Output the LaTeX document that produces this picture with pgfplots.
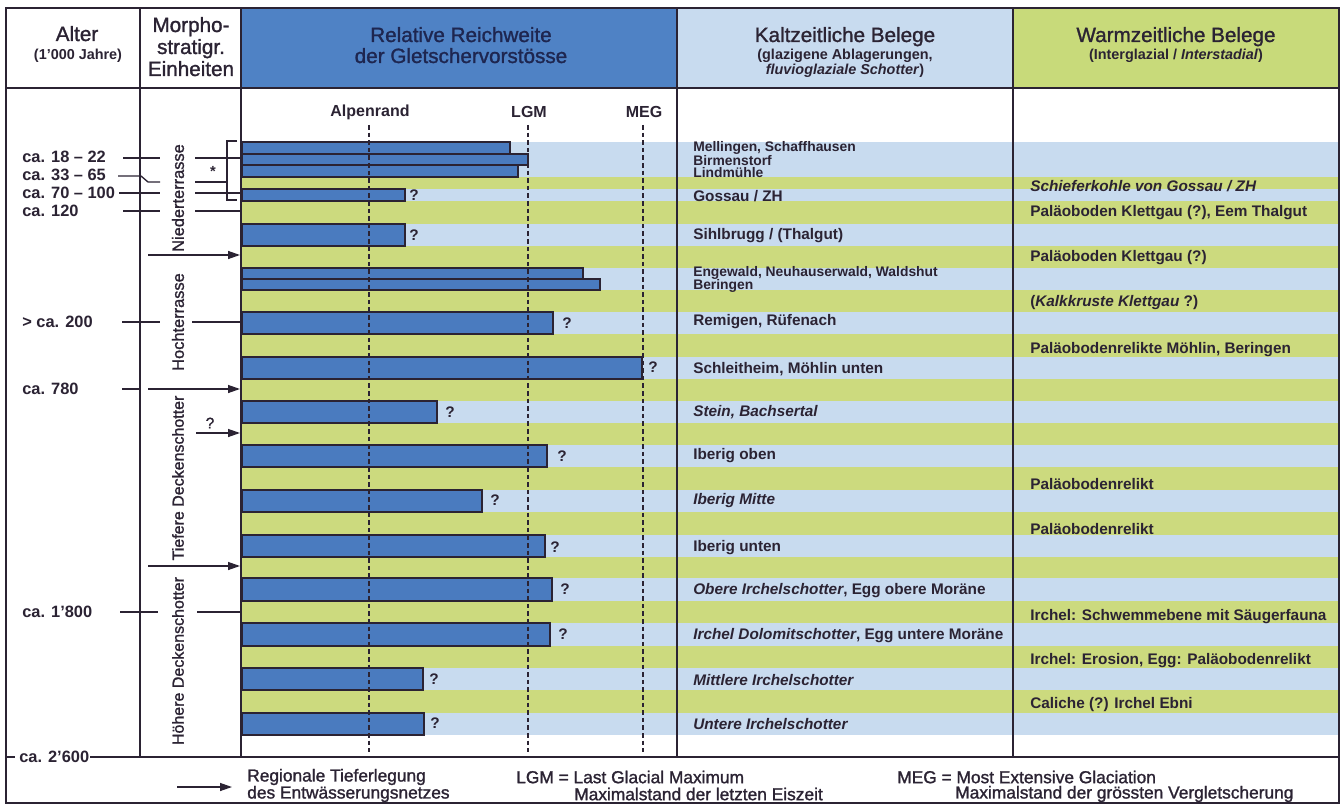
\documentclass[border=0pt]{standalone}
\usepackage{pgfplots}
\pgfplotsset{compat=1.18}
\usetikzlibrary{arrows.meta}
\usepackage{fontspec}
\setmainfont{Liberation Sans}
\newfontfamily\medfont[FakeBold=1.3]{Liberation Sans}
\definecolor{barblue}{HTML}{4A7BBF}
\definecolor{hdrblue}{HTML}{4F82C5}
\definecolor{lblue}{HTML}{C8DBEF}
\definecolor{lgreen}{HTML}{CCDA7E}
\definecolor{hgreen}{HTML}{C8DA7A}
\definecolor{ink}{HTML}{2B2333}
\definecolor{navy}{HTML}{1E2650}
\newcommand{\rectfill}[5]{\addplot[fill=#5,draw=none,mark=none,forget plot] coordinates {(#1,#2) (#3,#2) (#3,#4) (#1,#4)} -- cycle;}
\newcommand{\band}[3]{\rectfill{241}{#1}{1339}{#2}{#3}}
\newcommand{\gbar}[3]{\addplot[fill=barblue,draw=ink,line width=0.9pt,mark=none] coordinates {(242,#1) (#3,#1) (#3,#2) (242,#2)} -- cycle;}
\newcommand{\seg}[4]{\addplot[draw=ink,line width=1pt,mark=none] coordinates {(#1,#2) (#3,#4)};}
\newcommand{\arr}[3]{\addplot[draw=ink,line width=1pt,mark=none,-{Triangle[length=9pt,width=6pt]}] coordinates {(#1,#3) (#2,#3)};}
\newcommand{\rowf}{\fontsize{11.5}{12}\selectfont\bfseries}
\newcommand{\rowg}{\fontsize{10.4}{12}\selectfont\bfseries}
\newcommand{\hdrf}{\fontsize{15.5}{18}\selectfont\medfont}
\newcommand{\subf}{\fontsize{10.8}{12}\selectfont\bfseries}
\newcommand{\lblf}{\fontsize{12.3}{14}\selectfont\bfseries}
\newcommand{\qf}{\fontsize{11.5}{12}\selectfont\bfseries}
\newcommand{\footf}{\fontsize{13}{14}\selectfont\medfont}
\tikzset{tx/.style={text=ink,anchor=west,inner xsep=0pt}, hb/.style={text=ink,anchor=base,inner sep=0pt}}
\begin{document}
\begin{tikzpicture}
\begin{axis}[x=0.75pt, y=0.75pt, xmin=0, xmax=1344, ymin=0, ymax=809, y dir=reverse,
  hide axis, clip=false, scale only axis]
% background
\rectfill{0}{0}{1344}{809}{white}
% header fills
\rectfill{241}{8}{677}{88}{hdrblue}
\rectfill{677}{8}{1013}{88}{lblue}
\rectfill{1013}{8}{1339}{88}{hgreen}
% stripes (light blue = bar rows, green = gaps)
\band{142}{177}{lblue}
\band{177}{189}{lgreen}
\band{189}{201}{lblue}
\band{201}{224}{lgreen}
\band{224}{246}{lblue}
\band{246}{268}{lgreen}
\band{268}{290}{lblue}
\band{290}{312}{lgreen}
\band{312}{334}{lblue}
\band{334}{357}{lgreen}
\band{357}{379}{lblue}
\band{379}{401}{lgreen}
\band{401}{423}{lblue}
\band{423}{445}{lgreen}
\band{445}{467}{lblue}
\band{467}{490}{lgreen}
\band{490}{512}{lblue}
\band{512}{535}{lgreen}
\band{535}{557}{lblue}
\band{557}{578}{lgreen}
\band{578}{601}{lblue}
\band{601}{623}{lgreen}
\band{623}{646}{lblue}
\band{646}{668}{lgreen}
\band{668}{690}{lblue}
\band{690}{713}{lgreen}
\band{713}{735}{lblue}
% bars: top, bottom, right end
\gbar{142}{154}{510}
\gbar{154}{165}{528}
\gbar{165}{177}{518}
\gbar{189}{201}{405}
\gbar{224}{246}{405}
\gbar{268}{279}{583}
\gbar{279}{290}{600}
\gbar{312}{334}{553}
\gbar{357}{379}{642}
\gbar{401}{423}{437}
\gbar{445}{467}{547}
\gbar{490}{512}{482}
\gbar{535}{557}{545}
\gbar{578}{601}{552}
\gbar{623}{646}{550}
\gbar{668}{690}{423}
\gbar{713}{735}{424}
% reference lines
\addplot[draw=ink,line width=1pt,dash pattern=on 3.5pt off 2.2pt,mark=none] coordinates {(369,125) (369,752)};
\addplot[draw=ink,line width=1pt,dash pattern=on 3.5pt off 2.2pt,mark=none] coordinates {(528,125) (528,752)};
\addplot[draw=ink,line width=1pt,dash pattern=on 3.5pt off 2.2pt,mark=none] coordinates {(643,125) (643,752)};
% frame and grid
\addplot[draw=ink,line width=1.2pt,mark=none] coordinates {(6,8) (1339,8) (1339,803) (6,803)} -- cycle;
\seg{6}{88}{1339}{88}
\seg{140}{8}{140}{757}
\seg{241}{8}{241}{757}
\seg{677}{8}{677}{757}
\seg{1013}{8}{1013}{757}
\seg{6}{757}{15}{757}
\seg{90}{757}{1339}{757}
% age ticks
\seg{123}{158}{160}{158}
\seg{195}{158}{240}{158}
\addplot[draw=ink,line width=1pt,mark=none] coordinates {(118,176) (141,176) (148,182) (160,182)};
\seg{195}{182}{227}{182}
\seg{119}{193}{160}{193}
\seg{195}{193}{240}{193}
\seg{123}{211}{160}{211}
\seg{195}{211}{240}{211}
\addplot[draw=ink,line width=1pt,mark=none] coordinates {(237,141) (227,141) (227,200) (237,200)};
\seg{122}{322}{160}{322}
\seg{192}{322}{240}{322}
\seg{122}{389}{140}{389}
\seg{120}{612}{158}{612}
\seg{197}{612}{240}{612}
\arr{148}{240}{255}
\arr{148}{240}{389}
\arr{196}{240}{433}
\arr{148}{240}{566}
\arr{177}{232}{787}
% header texts
\node[font=\hdrf,hb] at (77,41) {Alter};
\node[font=\subf,hb] at (78,60) {(1’000 Jahre)};
\node[font=\hdrf,hb] at (191,32) {Morpho-};
\node[font=\hdrf,hb] at (191,54) {stratigr.};
\node[font=\hdrf,hb] at (191,76) {Einheiten};
\node[font=\hdrf,hb,text=navy] at (461,42) {Relative Reichweite};
\node[font=\hdrf,hb,text=navy] at (461,63) {der Gletschervorstösse};
\node[font=\hdrf,hb] at (845,42) {Kaltzeitliche Belege};
\node[font=\subf,hb] at (845,60) {(glazigene Ablagerungen,};
\node[font=\subf,hb] at (845,75) {\textit{fluvioglaziale Schotter})};
\node[font=\hdrf,hb] at (1176,42) {Warmzeitliche Belege};
\node[font=\subf,hb] at (1176,60) {(Interglazial / \textit{Interstadial})};
% reference line labels
\node[font=\fontsize{12}{13}\selectfont\bfseries,text=ink] at (370,112) {Alpenrand};
\node[font=\fontsize{12}{13}\selectfont\bfseries,text=ink] at (529,112) {LGM};
\node[font=\fontsize{12}{13}\selectfont\bfseries,text=ink] at (644,112) {MEG};
% age labels
\node[font=\lblf,tx] at (22,157) {ca. 18 – 22};
\node[font=\lblf,tx] at (22,175) {ca. 33 – 65};
\node[font=\lblf,tx] at (22,193) {ca. 70 – 100};
\node[font=\lblf,tx] at (22,211) {ca. 120};
\node[font=\lblf,tx] at (22,322) {> ca. 200};
\node[font=\lblf,tx] at (22,389) {ca. 780};
\node[font=\lblf,tx] at (22,612) {ca. 1’800};
\node[font=\lblf,tx] at (19,757) {ca. 2’600};
% morphostratigraphic units
\node[font=\fontsize{12.3}{14}\selectfont\medfont,text=ink,rotate=90] at (178,198) {Niederterrasse};
\node[font=\fontsize{12.3}{14}\selectfont\medfont,text=ink,rotate=90] at (178,322) {Hochterrasse};
\node[font=\fontsize{12}{14}\selectfont\medfont,text=ink,rotate=90] at (178,478) {Tiefere Deckenschotter};
\node[font=\fontsize{12}{14}\selectfont\medfont,text=ink,rotate=90] at (178,661) {Höhere Deckenschotter};
\node[font=\fontsize{11}{12}\selectfont\bfseries,text=ink] at (213,171) {*};
\node[font=\fontsize{11.5}{12}\selectfont\medfont,text=ink] at (210,423) {?};
% question marks
\node[font=\qf,text=ink] at (414,195) {?};
\node[font=\qf,text=ink] at (414,235) {?};
\node[font=\qf,text=ink] at (567,323) {?};
\node[font=\qf,text=ink] at (653,367) {?};
\node[font=\qf,text=ink] at (450,412) {?};
\node[font=\qf,text=ink] at (562,456) {?};
\node[font=\qf,text=ink] at (495,500) {?};
\node[font=\qf,text=ink] at (555,547) {?};
\node[font=\qf,text=ink] at (565,589) {?};
\node[font=\qf,text=ink] at (563,634) {?};
\node[font=\qf,text=ink] at (434,679) {?};
\node[font=\qf,text=ink] at (435,723) {?};
% cold-period evidence
\node[font=\rowg,tx,inner ysep=0pt] at (693,148) {Mellingen, Schaffhausen};
\node[font=\rowg,tx,inner ysep=0pt] at (693,160.5) {Birmenstorf};
\node[font=\rowg,tx,inner ysep=0pt] at (693,172.5) {Lindmühle};
\node[font=\rowf,tx] at (693,196) {Gossau / ZH};
\node[font=\rowf,tx] at (693,236) {Sihlbrugg / (Thalgut)};
\node[font=\rowg,tx,inner ysep=0pt] at (693,273) {Engewald, Neuhauserwald, Waldshut};
\node[font=\rowg,tx,inner ysep=0pt] at (693,285.5) {Beringen};
\node[font=\rowf,tx] at (693,322) {Remigen, Rüfenach};
\node[font=\rowf,tx] at (693,369) {Schleitheim, Möhlin unten};
\node[font=\rowf,tx] at (693,412) {\itshape Stein, Bachsertal};
\node[font=\rowf,tx] at (693,456) {Iberig oben};
\node[font=\rowf,tx] at (693,501) {\itshape Iberig Mitte};
\node[font=\rowf,tx] at (693,548) {Iberig unten};
\node[font=\rowf,tx] at (693,591) {\textit{Obere Irchelschotter}, Egg obere Moräne};
\node[font=\rowf,tx] at (693,636) {\textit{Irchel Dolomitschotter}, Egg untere Moräne};
\node[font=\rowf,tx] at (693,680) {\itshape Mittlere Irchelschotter};
\node[font=\rowf,tx] at (693,724) {\itshape Untere Irchelschotter};
% warm-period evidence
\node[font=\rowf,tx] at (1030,186) {\itshape Schieferkohle von Gossau / ZH};
\node[font=\rowf,tx] at (1030,213) {Paläoboden Klettgau (?), Eem Thalgut};
\node[font=\rowf,tx] at (1030,258) {Paläoboden Klettgau (?)};
\node[font=\rowf,tx] at (1030,303) {(\textit{Kalkkruste Klettgau} ?)};
\node[font=\rowf,tx] at (1030,350) {Paläobodenrelikte Möhlin, Beringen};
\node[font=\rowf,tx] at (1030,484) {Paläobodenrelikt};
\node[font=\rowf,tx] at (1030,529) {Paläobodenrelikt};
\node[font=\rowf,tx] at (1030,617) {Irchel: Schwemmebene mit Säugerfauna};
\node[font=\rowf,tx] at (1030,661) {Irchel: Erosion, Egg: Paläobodenrelikt};
\node[font=\rowf,tx] at (1030,705) {Caliche (?) Irchel Ebni};
% footer
\node[font=\footf,tx] at (247,777) {Regionale Tieferlegung};
\node[font=\footf,tx] at (247,794) {des Entwässerungsnetzes};
\node[font=\footf,tx] at (516,777) {LGM = Last Glacial Maximum};
\node[font=\footf,tx] at (574,794) {Maximalstand der letzten Eiszeit};
\node[font=\footf,tx] at (897,777) {MEG = Most Extensive Glaciation};
\node[font=\footf,tx] at (955,794) {Maximalstand der grössten Vergletscherung};
\end{axis}
\end{tikzpicture}
\end{document}
